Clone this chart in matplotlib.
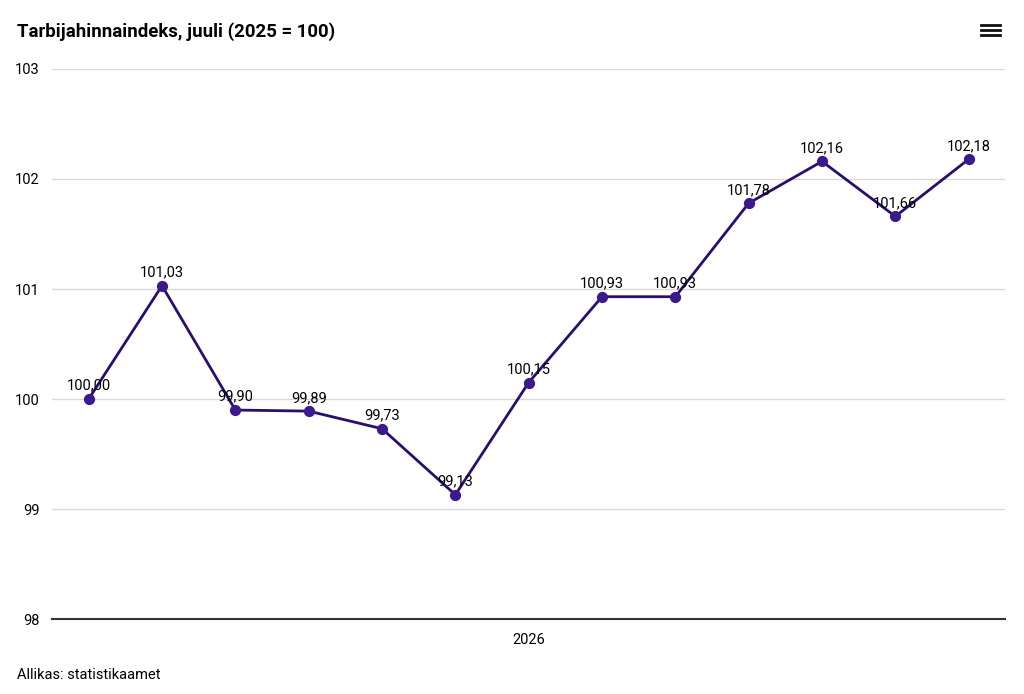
import matplotlib.pyplot as plt
import numpy as np

plt.rcParams['font.family'] = ['Roboto', 'DejaVu Sans']

# Data
values = [100.00, 101.03, 99.90, 99.89, 99.73, 99.13, 100.15, 100.93, 100.93, 101.78, 102.16, 101.66, 102.18]
labels = ["100,00", "101,03", "99,90", "99,89", "99,73", "99,13", "100,15", "100,93", "100,93", "101,78", "102,16", "101,66", "102,18"]
y_ticks = [98, 99, 100, 101, 102, 103]
x_label = "2026"
title = "Tarbijahinnaindeks, juuli (2025 = 100)"
source = "Allikas: statistikaamet"

line_color = "#2a0e6e"
marker_color = "#3c1a8c"

fig = plt.figure(figsize=(10.24, 6.94), dpi=100)
ax = fig.add_axes([0.0508, 0.108, 0.931, 0.7926])

x = np.arange(len(values))
ax.plot(x, values, color=line_color, linewidth=2, zorder=3)
ax.scatter(x, values, s=50, color=marker_color, zorder=4)

for xi, yi, lab in zip(x, values, labels):
    ax.annotate(lab, (xi, yi), xytext=(0, 4.5), textcoords="offset points",
                ha="center", va="bottom", fontsize=10.5, color="#000000", zorder=5)

ax.set_xlim(-0.5, len(values) - 0.5)
ax.set_ylim(98, 103)
ax.set_yticks(y_ticks)
ax.set_yticklabels([str(t) for t in y_ticks], fontsize=10.5)
ax.set_xticks([(len(values) - 1) / 2])
ax.set_xticklabels([x_label], fontsize=10.5)
ax.tick_params(axis="y", length=0, pad=9)
ax.tick_params(axis="x", length=0, pad=10)

ax.grid(axis="y", color="#d9d9d9", linewidth=1)
ax.set_axisbelow(True)
for side in ["top", "right", "left"]:
    ax.spines[side].set_visible(False)
ax.spines["bottom"].set_color("#333333")
ax.spines["bottom"].set_linewidth(1.5)

fig.text(0.0166, 0.955, title, fontsize=13.4, fontweight="bold", ha="left", va="center")
fig.text(0.0166, 0.028, source, fontsize=10.5, ha="left", va="center")

# hamburger menu icon
for yy in [0.9495, 0.957, 0.9645]:
    fig.add_artist(plt.Line2D([0.958, 0.977], [yy, yy], color="#111111", linewidth=2,
                              transform=fig.transFigure))

fig.savefig("out.png", dpi=100, facecolor="white")
